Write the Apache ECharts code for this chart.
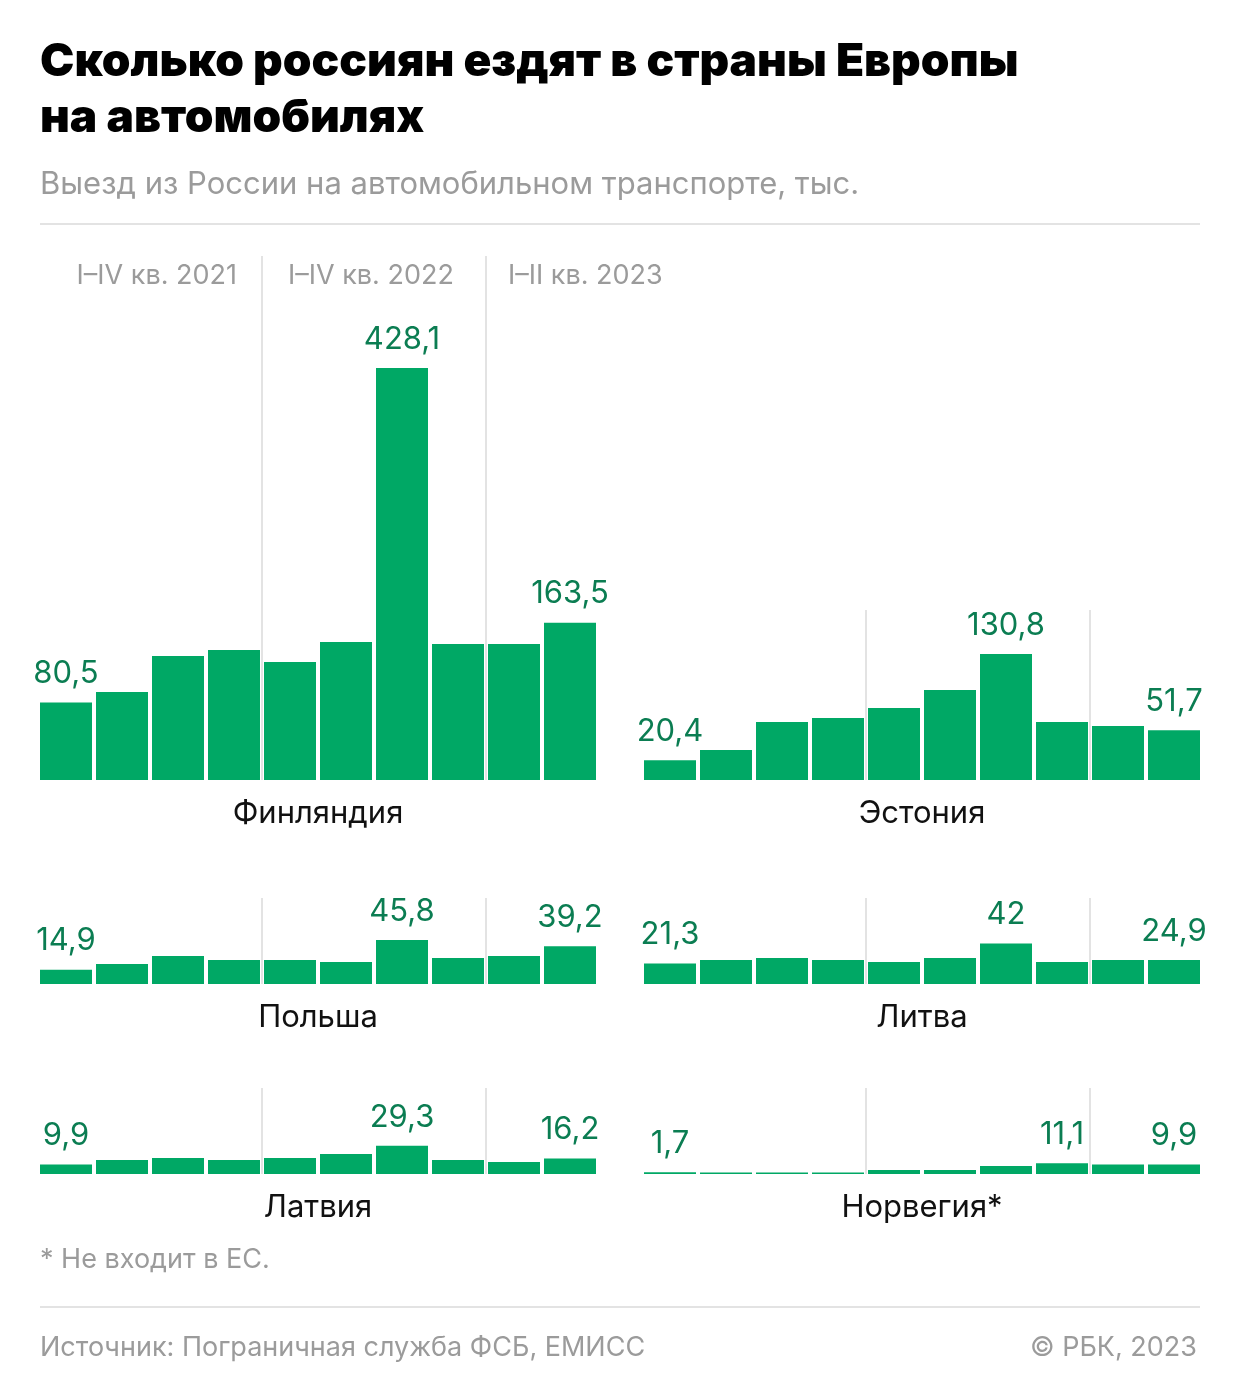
<!DOCTYPE html>
<html>
<head>
<meta charset="utf-8">
<script src="https://cdn.jsdelivr.net/npm/echarts@6/dist/echarts.min.js"></script>
<style>
html,body{margin:0;padding:0;background:#fff;}
#chart{width:1240px;height:1395px;}
</style>
</head>
<body>
<div id="chart"></div>
<script>
// ---- data ----
var quarters = ["I кв. 2021","II кв. 2021","III кв. 2021","IV кв. 2021","I кв. 2022","II кв. 2022","III кв. 2022","IV кв. 2022","I кв. 2023","II кв. 2023"];
var periodLabels = ["I–IV кв. 2021", "I–IV кв. 2022", "I–II кв. 2023"];
var countries = ["Финляндия", "Эстония", "Польша", "Литва", "Латвия", "Норвегия*"];
var finland   = [80.5, 91.4, 128.8, 135.1, 122.6, 143.4, 428.1, 141.3, 141.3, 163.5];
var estonia   = [20.4, 31.2, 60.3, 64.4, 74.8, 93.5, 130.8, 60.3, 56.1, 51.7];
var poland    = [14.9, 20.8, 29.1, 24.9, 24.9, 22.9, 45.8, 27.0, 29.1, 39.2];
var lithuania = [21.3, 24.9, 27.0, 24.9, 22.9, 27.0, 42, 22.9, 24.9, 24.9];
var latvia    = [9.9, 14.5, 16.6, 14.5, 16.6, 20.8, 29.3, 14.5, 12.5, 16.2];
var norway    = [1.7, 1.5, 1.5, 1.6, 4.2, 4.2, 8.3, 11.1, 10.0, 9.9];
var seriesData = [finland, estonia, poland, lithuania, latvia, norway];

var titleText = "Сколько россиян ездят в страны Европы\nна автомобилях";
var subtitleText = "Выезд из России на автомобильном транспорте, тыс.";
var footnoteText = "* Не входит в ЕС.";
var sourceText = "Источник: Пограничная служба ФСБ, ЕМИСС";
var copyrightText = "© РБК, 2023";

// ---- layout ----
var FONT = "Inter, 'Noto Sans', Roboto, sans-serif";
var GREEN = "#00a865";
var LABEL_GREEN = "#0b7d52";
var GREY = "#9b9b9b";
var pxPerUnit = 412 / 428.1;
var panels = [
  {left: 38,  top: 256,  base: 780},
  {left: 642, top: 610,  base: 780},
  {left: 38,  top: 898,  base: 984},
  {left: 642, top: 898,  base: 984},
  {left: 38,  top: 1088, base: 1174},
  {left: 642, top: 1088, base: 1174}
];

function fmt(v){ return String(v).replace('.', ','); }

var grids = [], xAxes = [], yAxes = [], series = [];
panels.forEach(function(p, i){
  var data = seriesData[i];
  var maxIdx = data.indexOf(Math.max.apply(null, data));
  var show = {}; show[0] = true; show[maxIdx] = true; show[data.length-1] = true;
  grids.push({left: p.left, top: p.top, width: 560, height: p.base - p.top, containLabel: false});
  xAxes.push({
    type: 'category', gridIndex: i, data: quarters, boundaryGap: true,
    axisLine: {show: false}, axisTick: {show: false}, axisLabel: {show: false},
    splitLine: {show: true, showMaxLine: false,
      interval: function(idx){ return idx === 4 || idx === 8; },
      lineStyle: {color: '#e3e3e3', width: 2}},
    name: countries[i], nameLocation: 'middle', nameGap: 18,
    nameTextStyle: {fontFamily: FONT, fontSize: 31, color: '#111', lineHeight: 31}
  });
  yAxes.push({
    type: 'value', gridIndex: i, min: 0, max: (p.base - p.top) / pxPerUnit,
    show: false, splitLine: {show: false}
  });
  series.push({
    type: 'bar', xAxisIndex: i, yAxisIndex: i, barWidth: 52,
    itemStyle: {color: GREEN},
    silent: true, animation: false,
    data: data.map(function(v, j){
      return {value: v, label: {show: !!show[j]}};
    }),
    label: {position: 'top', distance: 13, fontFamily: FONT, fontSize: 31,
      color: LABEL_GREEN, formatter: function(pr){ return fmt(pr.value); }}
  });
});

var graphics = [
  {type: 'text', x: 40, y: 34, style: {text: titleText, font: "900 46px " + FONT, fill: '#000', lineHeight: 56}},
  {type: 'text', x: 40, y: 185, style: {text: subtitleText, font: "31px " + FONT, fill: GREY, verticalAlign: 'middle'}},
  {type: 'line', shape: {x1: 40, y1: 224, x2: 1200, y2: 224}, style: {stroke: '#e3e3e3', lineWidth: 2}},
  {type: 'text', x: 237, y: 276, style: {text: periodLabels[0], font: "27px " + FONT, fill: GREY, align: 'right', verticalAlign: 'middle'}},
  {type: 'text', x: 288, y: 276, style: {text: periodLabels[1], font: "27px " + FONT, fill: GREY, align: 'left', verticalAlign: 'middle'}},
  {type: 'text', x: 508, y: 276, style: {text: periodLabels[2], font: "27px " + FONT, fill: GREY, align: 'left', verticalAlign: 'middle'}},
  {type: 'text', x: 40, y: 1260, style: {text: footnoteText, font: "27px " + FONT, fill: GREY, verticalAlign: 'middle'}},
  {type: 'line', shape: {x1: 40, y1: 1307, x2: 1200, y2: 1307}, style: {stroke: '#e3e3e3', lineWidth: 2}},
  {type: 'text', x: 40, y: 1348, style: {text: sourceText, font: "27px " + FONT, fill: GREY, verticalAlign: 'middle'}},
  {type: 'text', x: 1197, y: 1348, style: {text: copyrightText, font: "27px " + FONT, fill: GREY, align: 'right', verticalAlign: 'middle'}}
];

var chart = echarts.init(document.getElementById('chart'), null, {renderer: 'canvas'});
chart.setOption({
  animation: false,
  backgroundColor: '#fff',
  grid: grids, xAxis: xAxes, yAxis: yAxes, series: series,
  graphic: graphics
});
</script>
</body>
</html>
